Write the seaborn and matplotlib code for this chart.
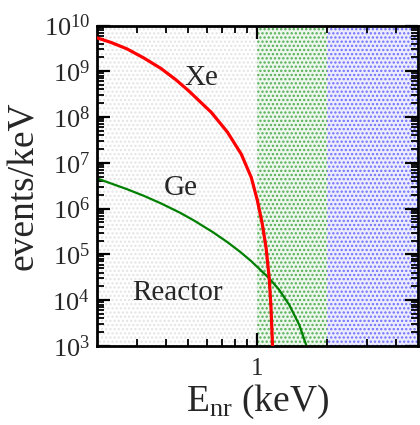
import numpy as np
import pandas as pd
import matplotlib
matplotlib.use("Agg")
import matplotlib.pyplot as plt
from matplotlib.ticker import LogLocator, NullFormatter, FixedLocator, FixedFormatter
import seaborn as sns

# Xe recoil spectrum
xe_energy = [0.20, 0.23, 0.27, 0.32, 0.38, 0.44, 0.50, 0.63, 0.74, 0.85,
             0.94, 1.00, 1.05, 1.09, 1.125, 1.145, 1.163]
xe_rate = [5.37e9, 4.27e9, 3.09e9, 1.95e9, 1.15e9, 6.6e8, 3.8e8, 1.26e8, 4.68e7, 1.55e7,
           4.79e6, 1.48e6, 4.57e5, 1.41e5, 3.09e4, 7.1e3, 1.0e3]

# Ge recoil spectrum
ge_energy = [0.20, 0.27, 0.32, 0.38, 0.46, 0.53, 0.64, 0.74, 0.84, 0.94,
             1.125, 1.244, 1.375, 1.52, 1.63]
ge_rate = [4.57e6, 2.66e6, 1.9e6, 1.30e6, 8.13e5, 5.47e5, 3.05e5, 1.85e5, 1.14e5, 7.1e4,
           3.0e4, 1.68e4, 7.9e3, 2.9e3, 1.05e3]

# threshold bands (keV)
band_edges = [0.2, 1.0, 2.0, 5.0]
band_face = ["white", "#edf7ed", "#ececfd"]
band_dots = ["#e4e4e4", "#52ad52", "#7070ff"]

xe_df = pd.DataFrame({"E": xe_energy, "rate": xe_rate})
ge_df = pd.DataFrame({"E": ge_energy, "rate": ge_rate})

sns.set_theme(style="ticks")
plt.rcParams["font.family"] = ["Liberation Serif", "DejaVu Serif"]
plt.rcParams["mathtext.fontset"] = "custom"
plt.rcParams["mathtext.rm"] = "Liberation Serif"
plt.rcParams["mathtext.it"] = "Liberation Serif:italic"
plt.rcParams["hatch.linewidth"] = 1.1

fig = plt.figure(figsize=(4.2, 4.25), dpi=100)
ax = fig.add_axes([0.231, 0.186, 0.764, 0.754])
ax.set_xscale("log")
ax.set_yscale("log")

for i in range(3):
    ax.axvspan(band_edges[i], band_edges[i + 1], facecolor=band_face[i],
               edgecolor=band_dots[i], hatch="....", linewidth=0, zorder=0)

sns.lineplot(data=xe_df, x="E", y="rate", color="red", lw=2.3,
             estimator=None, sort=False, ax=ax, zorder=3)
sns.lineplot(data=ge_df, x="E", y="rate", color="#008000", lw=1.6,
             estimator=None, sort=False, ax=ax, zorder=2)

ax.set_xlim(0.2, 5.0)
ax.set_ylim(1e3, 1e10)

ax.text(0.569, 7.0e8, "Xe", fontsize=21, ha="center", va="center")
ax.text(0.461, 2.8e6, "Ge", fontsize=21, ha="center", va="center")
ax.text(0.447, 1.45e4, "Reactor", fontsize=21, ha="center", va="center")

ax.xaxis.set_major_locator(FixedLocator([1.0]))
ax.xaxis.set_major_formatter(FixedFormatter(["1"]))
ax.xaxis.set_minor_locator(FixedLocator([0.3, 0.4, 0.5, 0.6, 0.7, 0.8, 0.9, 2, 3, 4]))
ax.xaxis.set_minor_formatter(NullFormatter())
ax.yaxis.set_major_locator(LogLocator(base=10, numticks=20))
ax.yaxis.set_minor_locator(LogLocator(base=10, subs=np.arange(2, 10), numticks=100))
ax.yaxis.set_minor_formatter(NullFormatter())

ax.tick_params(which="both", direction="in", top=True, right=True, color="black")
ax.tick_params(which="major", length=9.5, width=1.6, pad=5)
ax.tick_params(axis="y", which="major", labelsize=19)
ax.tick_params(axis="x", which="major", labelsize=18, pad=9)
ax.tick_params(which="minor", length=5, width=1.3)
for s in ax.spines.values():
    s.set_linewidth(2.0)
    s.set_color("black")

ax.set_xlabel(r"E$_{\rm nr}$ (keV)", fontsize=27, labelpad=2)
ax.set_ylabel("events/keV", fontsize=27, labelpad=2)

fig.savefig("out.png", dpi=100)
